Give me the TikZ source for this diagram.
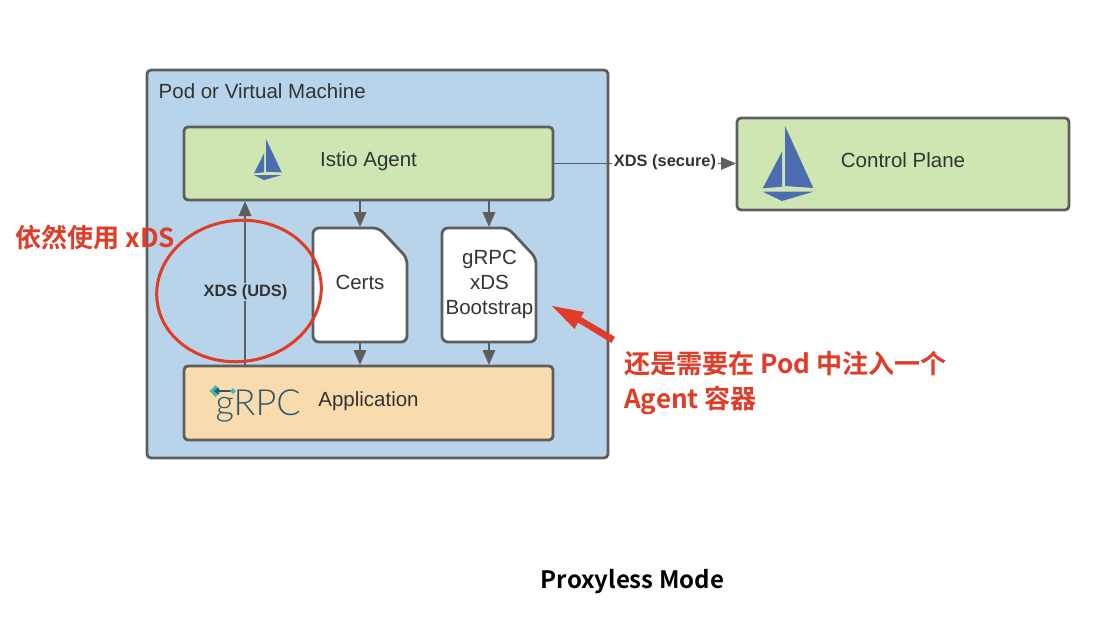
\documentclass[tikz,border=0pt]{standalone}
\usepackage{fontspec}
\setmainfont{Liberation Sans}
\newfontfamily\cjkb[BoldFont={Noto Sans CJK SC Bold}]{Noto Sans CJK SC Bold}
\newfontfamily\grpcfont{Lato Light}
\usetikzlibrary{arrows.meta}
\definecolor{podblue}{HTML}{B8D4EA}
\definecolor{boxgreen}{HTML}{CFE6B2}
\definecolor{apporange}{HTML}{FADBAE}
\definecolor{edgegrey}{HTML}{5E5E5E}
\definecolor{inktext}{HTML}{333333}
\definecolor{sail}{HTML}{4C6DAF}
\definecolor{redmark}{HTML}{E03C28}
\definecolor{grpcink}{HTML}{2C5A6B}
\definecolor{grpcteal}{HTML}{4FB5B5}
\tikzset{
  x=1pt,y=-1pt,
  boxed/.style={draw=edgegrey,line width=2.8pt,rounded corners=4pt,inner sep=0pt,outer sep=0pt,anchor=north west},
  lbl/.style={text=inktext,font=\fontsize{20.5}{24}\selectfont,inner sep=0pt},
  edgelbl/.style={text=inktext,font=\bfseries\fontsize{16.4}{19}\selectfont,inner sep=1.5pt},
  conn/.style={draw=edgegrey,line width=1.8pt,-{Triangle[length=15pt,width=12.5pt]},shorten >=1pt},
  docbody/.style={draw=edgegrey,line width=2.8pt,fill=white,rounded corners=6pt},
  redtxt/.style={text=redmark,font=\cjkb\fontsize{26.1}{35.5}\selectfont,inner sep=0pt,anchor=west,align=left},
}
\begin{document}
\begin{tikzpicture}
\useasboundingbox (0,0) rectangle (1098,640);
\node[boxed,fill=podblue,minimum width=461pt,minimum height=388pt] (pod) at (147,70) {};
\node[lbl,anchor=west] (podl) at (158.5,91) {Pod or Virtual Machine};
\node[boxed,fill=boxgreen,minimum width=369pt,minimum height=73pt] (agent) at (184,127) {};
\node[lbl] (agentl) at (368.5,161.5) {Istio Agent};
\node[boxed,fill=apporange,minimum width=369pt,minimum height=74pt] (app) at (184,366) {};
\node[lbl] (appl) at (368.5,401.5) {Application};
\node[boxed,fill=boxgreen,minimum width=332pt,minimum height=92pt] (control) at (737,118) {};
\node[lbl] (controll) at (903,160.5) {Control Plane};
% documents
\draw[docbody] (313,228) -- (379,228) -- (407,258) -- (407,342) -- (313,342) -- cycle;
\draw[docbody] (442,228) -- (508,228) -- (536,258) -- (536,342) -- (442,342) -- cycle;
\node[minimum width=94pt,minimum height=114pt,inner sep=0pt,outer sep=0pt,anchor=north west] (certs) at (313,228) {};
\node[minimum width=94pt,minimum height=114pt,inner sep=0pt,outer sep=0pt,anchor=north west] (boot) at (442,228) {};
\node[lbl] (certsl) at (360,282) {Certs};
\node[lbl,align=center,font=\fontsize{20.5}{24.8}\selectfont] (bootl) at (489.5,284.5) {gRPC\\xDS\\Bootstrap};
% connectors
\coordinate (uds) at (245,300);
\draw[conn] (agent.south -| certs.north) -- (certs.north);
\draw[conn] (agent.south -| boot.north) -- (boot.north);
\draw[conn] (certs.south) -- (app.north -| certs.south);
\draw[conn] (boot.south) -- (app.north -| boot.south);
\draw[conn] (app.north -| uds) -- (agent.south -| uds);
\node[edgelbl,fill=podblue] (udsl) at (245.5,292) {XDS (UDS)};
\draw[conn] (agent.east) -- (agent.east -| control.west);
\node[edgelbl,fill=white] (secl) at (665,162.5) {XDS (secure)};
% sails
\fill[sail] (785,126) -- (813.3,188) -- (785,186) -- cycle;
\fill[sail] (782,151.7) -- (782,186.7) -- (762.7,188.3) -- cycle;
\fill[sail] (762.7,191.7) -- (813.3,191.7) -- (782,201) -- cycle;
\fill[sail] (266,139) -- (281.7,172.3) -- (266,171.7) -- cycle;
\fill[sail] (264,153.3) -- (264,172.3) -- (254,173.3) -- cycle;
\fill[sail] (254,175) -- (281.7,175) -- (264,180) -- cycle;
% gRPC logo
\node[text=grpcink,font=\grpcfont\fontsize{36}{40}\selectfont,inner sep=0pt,anchor=base west] (grpclogo) at (215.5,415) {gRPC};
\fill[grpcteal] (209.5,391) -- (215.5,385) -- (221.5,391) -- (215.5,397) -- cycle;
\draw[grpcink,line width=1.2pt] (216,391) -- (233,391);
\fill[grpcink] (213.5,391) -- (218.5,387.5) -- (218.5,394.5) -- cycle;
\fill[grpcteal] (230,391) -- (233,388) -- (236,391) -- (233,394) -- cycle;
% red annotations
\draw[redmark,line width=3pt,rotate around={8:(239,291)}] (239,291) ellipse [x radius=82.5pt,y radius=70.5pt];
\fill[redmark] (615,337) -- (611.5,343) -- (578,322.5) -- (574.5,329) -- (552,306) -- (584,312) -- (581,317) -- cycle;
\node[redtxt] (n1) at (15,238) {依然使用 xDS};
\node[redtxt] (n2) at (624,383) {还是需要在 Pod 中注入一个\\Agent 容器};
\node[font=\cjkb\fontsize{24}{28}\selectfont,text=black,inner sep=0pt] (title) at (632.5,582) {Proxyless Mode};
\end{tikzpicture}
\end{document}
